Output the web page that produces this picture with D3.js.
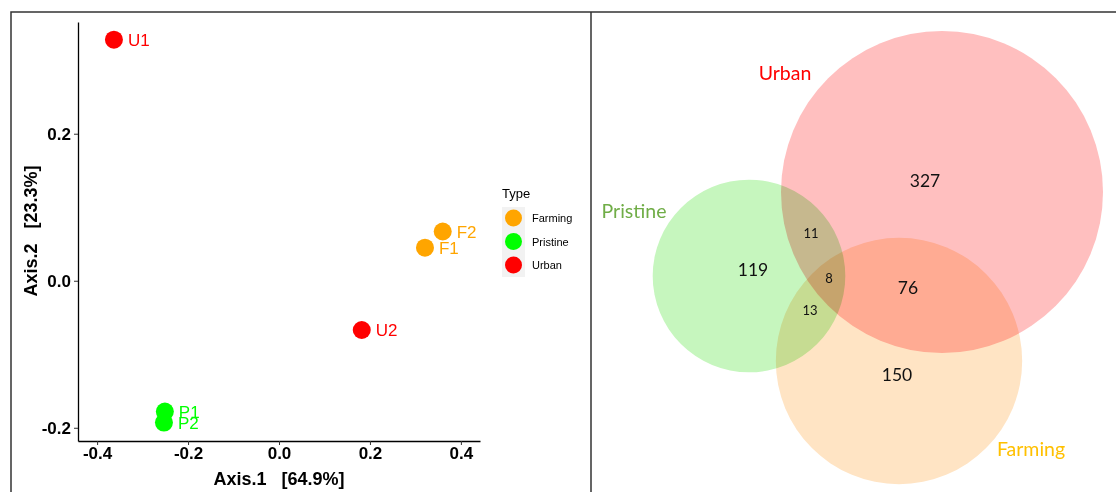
<!DOCTYPE html>
<html>
<head>
<meta charset="utf-8">
<script src="https://cdn.jsdelivr.net/npm/d3@7"></script>
<style>
  body { margin: 0; background: #fff; }
  svg text { white-space: pre; }
</style>
</head>
<body>
<svg id="chart" width="1116" height="492"></svg>
<script>
// ordination data (PCoA)
const samples = ["U1", "U2", "F1", "F2", "P1", "P2"];
const sampleType = ["Urban", "Urban", "Farming", "Farming", "Pristine", "Pristine"];
const axis1 = [-0.363, 0.182, 0.321, 0.360, -0.251, -0.253];
const axis2 = [0.328, -0.067, 0.045, 0.067, -0.178, -0.193];
const xTicks = [-0.4, -0.2, 0.0, 0.2, 0.4];
const yTicks = [-0.2, 0.0, 0.2];
const types = ["Farming", "Pristine", "Urban"];
const typeColors = ["#FFA500", "#00FF00", "#FF0000"];

// venn data
const sets = ["Urban", "Pristine", "Farming"];
const regionNames = ["U", "P", "F", "PU", "UF", "PF", "PUF"];
const regionCounts = [327, 119, 150, 11, 76, 13, 8];

const svg = d3.select("#chart");
const color = d3.scaleOrdinal().domain(types).range(typeColors);

// outer frame
svg.append("path")
    .attr("d", "M11,492 V12 H1116 M591,12 V492")
    .attr("fill", "none")
    .attr("stroke", "#333")
    .attr("stroke-width", 1.5);

// ---------- scatter ----------
const x = d3.scaleLinear().domain([-0.442, 0.442]).range([78, 480]);
const y = d3.scaleLinear().domain([-0.218, 0.352]).range([441, 22]);
const fmt = d => d3.format(".1f")(d).replace("−", "-");

const gx = svg.append("g")
    .attr("transform", "translate(0,441)")
    .call(d3.axisBottom(x).tickValues(xTicks).tickFormat(fmt).tickSize(4).tickSizeOuter(0).tickPadding(2));
const gy = svg.append("g")
    .attr("transform", "translate(78,0)")
    .call(d3.axisLeft(y).tickValues(yTicks).tickFormat(fmt).tickSize(4).tickSizeOuter(0).tickPadding(3));

[gx, gy].forEach(g => {
  g.select(".domain").attr("stroke", "#000").attr("stroke-width", 1.3);
  g.selectAll(".tick line").attr("stroke", "#333");
  g.selectAll(".tick text")
      .attr("fill", "#000")
      .style("font-family", "Liberation Sans, Arial, sans-serif")
      .style("font-size", "17px")
      .style("font-weight", "bold");
});
gy.selectAll(".tick text").attr("dy", "0.36em");

svg.append("text")
    .attr("x", 279).attr("y", 485)
    .attr("text-anchor", "middle")
    .style("font-family", "Liberation Sans, Arial, sans-serif")
    .style("font-size", "18px").style("font-weight", "bold")
    .text("Axis.1   [64.9%]");

svg.append("text")
    .attr("transform", "translate(37,231) rotate(-90)")
    .attr("text-anchor", "middle")
    .style("font-family", "Liberation Sans, Arial, sans-serif")
    .style("font-size", "18px").style("font-weight", "bold")
    .text("Axis.2   [23.3%]");

const pts = svg.append("g").selectAll("g")
  .data(samples.map((s, i) => ({id: s, type: sampleType[i], a1: axis1[i], a2: axis2[i]})))
  .join("g")
    .attr("transform", d => `translate(${x(d.a1)},${y(d.a2)})`);

pts.append("circle")
    .attr("r", 9)
    .attr("fill", d => color(d.type));

pts.append("text")
    .attr("x", 14)
    .attr("y", 6)
    .attr("fill", d => color(d.type))
    .style("font-family", "Liberation Sans, Arial, sans-serif")
    .style("font-size", "17px")
    .text(d => d.id);

// legend
const legend = svg.append("g").attr("transform", "translate(502,0)");
legend.append("text")
    .attr("x", 0).attr("y", 198)
    .style("font-family", "Liberation Sans, Arial, sans-serif")
    .style("font-size", "13px")
    .text("Type");
legend.append("rect")
    .attr("x", 0).attr("y", 207).attr("width", 23).attr("height", 70)
    .attr("fill", "#F2F2F2");
const li = legend.selectAll("g.item")
  .data(types)
  .join("g")
    .attr("class", "item")
    .attr("transform", (d, i) => `translate(0,${218 + i * 23.5})`);
li.append("circle")
    .attr("cx", 11.5).attr("r", 8.5)
    .attr("fill", d => color(d));
li.append("text")
    .attr("x", 30).attr("y", 4)
    .style("font-family", "Liberation Sans, Arial, sans-serif")
    .style("font-size", "11px")
    .text(d => d);

// ---------- venn ----------
const setSize = sets.map(s => {
  const key = s[0];
  return d3.sum(regionNames.map((r, i) => r.includes(key) ? regionCounts[i] : 0));
});
const rScale = d3.scaleSqrt().domain([0, d3.max(setSize)]).range([0, 161]);

// circle centres (layout)
const vennCentres = { Urban: [942, 192], Pristine: [749, 276], Farming: [899, 361] };
const vennFill = { Urban: "#FFBFBF", Pristine: "#C6F6BE", Farming: "#FFE4C4" };
const vennLabelColor = { Urban: "#FF0000", Pristine: "#70AD47", Farming: "#FFC000" };
const vennLabelPos = { Urban: [785, 80], Pristine: [634, 218], Farming: [1031, 456] };

const vg = svg.append("g").style("isolation", "isolate");
vg.selectAll("circle")
  .data(sets)
  .join("circle")
    .attr("cx", d => vennCentres[d][0])
    .attr("cy", d => vennCentres[d][1])
    .attr("r", (d, i) => rScale(setSize[i]))
    .attr("fill", d => vennFill[d])
    .style("mix-blend-mode", "multiply");

svg.append("g").selectAll("text")
  .data(sets)
  .join("text")
    .attr("x", d => vennLabelPos[d][0])
    .attr("y", d => vennLabelPos[d][1])
    .attr("text-anchor", "middle")
    .attr("fill", d => vennLabelColor[d])
    .style("font-family", "Lato, Open Sans, sans-serif")
    .style("font-size", "19.5px")
    .text(d => d);

const smallRegions = ["PU", "PF", "PUF"];
const regionPos = {
  U: [925, 187], P: [753, 276], F: [897, 381],
  PU: [811, 238], UF: [908, 294], PF: [810, 315], PUF: [829, 283]
};
svg.append("g").selectAll("text")
  .data(regionNames.map((r, i) => ({r, n: regionCounts[i]})))
  .join("text")
    .attr("x", d => regionPos[d.r][0])
    .attr("y", d => regionPos[d.r][1])
    .attr("text-anchor", "middle")
    .attr("fill", "#111")
    .style("font-family", "Lato, Open Sans, sans-serif")
    .style("font-size", d => smallRegions.includes(d.r) ? "13px" : "17.5px")
    .text(d => d.n);
</script>
</body>
</html>
